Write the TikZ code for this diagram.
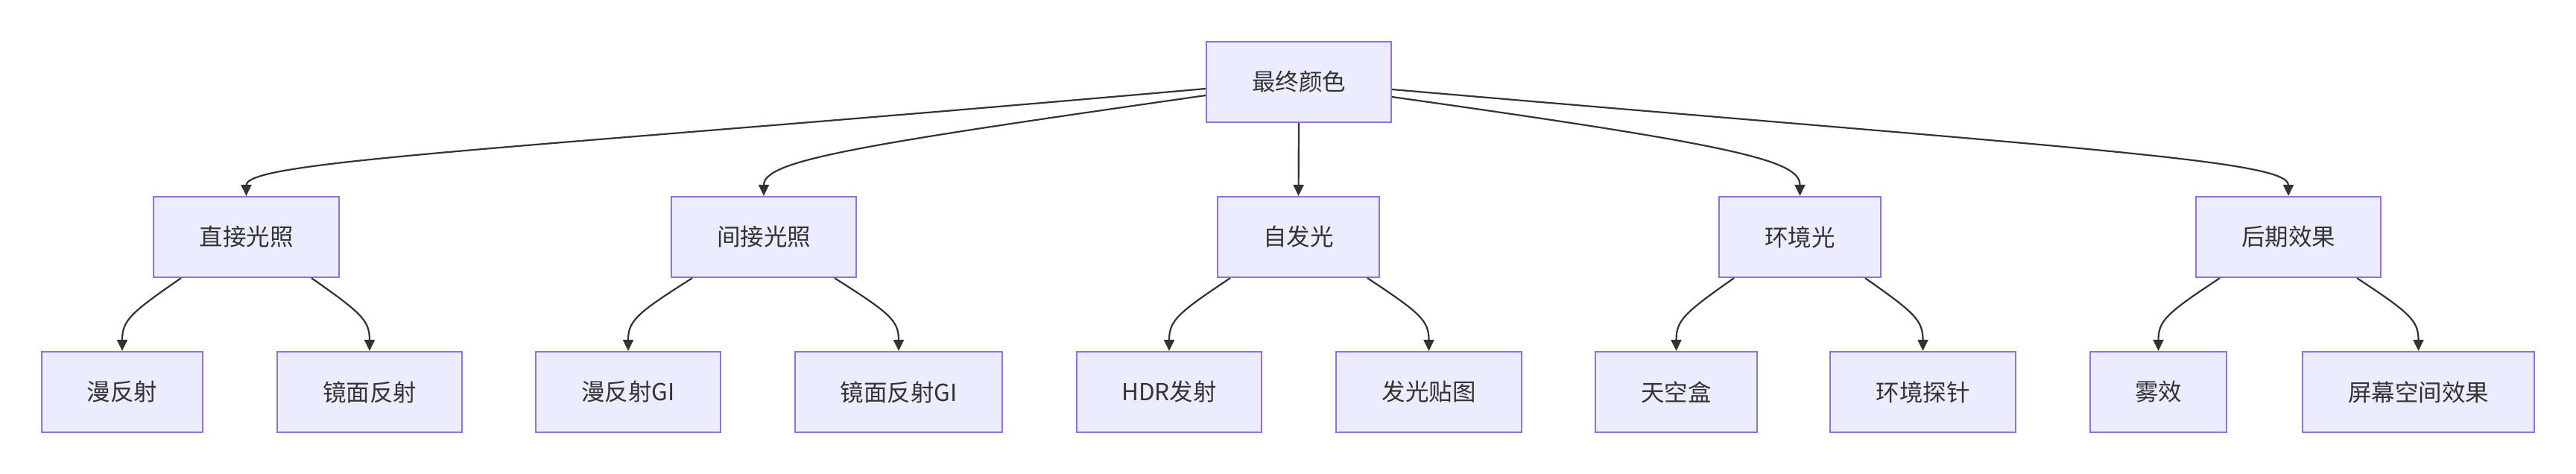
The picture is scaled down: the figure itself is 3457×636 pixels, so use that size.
\documentclass[tikz,border=0pt]{standalone}
\usepackage{fontspec}
\setmainfont{Noto Sans CJK SC}
\usetikzlibrary{arrows.meta}
\definecolor{boxfill}{HTML}{ECECFF}
\definecolor{boxline}{HTML}{9370DB}
\definecolor{ink}{HTML}{333333}
\begin{document}
\begin{tikzpicture}[x=1pt,y=-1pt,
  box/.style={draw=boxline, fill=boxfill, line width=2.2pt, minimum height=108pt,
    inner sep=0pt, text=ink, font=\fontsize{31.5}{36}\selectfont},
  arr/.style={draw=ink, line width=2.2pt, -{Triangle[length=15pt,width=14pt]}}]
\useasboundingbox (0,0) rectangle (3457,636);
% root
\node[box, minimum width=248pt] (root) at (1743,110) {最终颜色};
% level 1
\node[box, minimum width=249pt] (zj) at (330.5,318) {直接光照};
\node[box, minimum width=248pt] (jj) at (1025,318) {间接光照};
\node[box, minimum width=217pt] (zf) at (1742.5,318) {自发光};
\node[box, minimum width=217pt] (hj) at (2415.5,318) {环境光};
\node[box, minimum width=248pt] (hq) at (3071,318) {后期效果};
% level 2
\node[box, minimum width=216pt] (mf) at (164,526) {漫反射};
\node[box, minimum width=248pt] (jm) at (496,526) {镜面反射};
\node[box, minimum width=248pt] (mfgi) at (843,526) {漫反射GI};
\node[box, minimum width=278pt] (jmgi) at (1206,526) {镜面反射GI};
\node[box, minimum width=248pt] (hdr) at (1569,526) {HDR发射};
\node[box, minimum width=249pt] (fg) at (1917.5,526) {发光贴图};
\node[box, minimum width=217pt] (tk) at (2249.5,526) {天空盒};
\node[box, minimum width=249pt] (tz) at (2580.5,526) {环境探针};
\node[box, minimum width=183pt] (wx) at (2896.5,526) {雾效};
\node[box, minimum width=311pt] (pm) at (3245.5,526) {屏幕空间效果};
% root edges
\draw[arr] ([yshift=-9pt]root.west) .. controls (700,200) and (330.5,215) .. (zj.north);
\draw[arr] ([yshift=-18pt]root.west) .. controls (1150,195) and (1025,215) .. (jj.north);
\draw[arr] (root.south) -- (zf.north);
\draw[arr] ([yshift=-20pt]root.east) .. controls (2330,195) and (2415.5,215) .. (hj.north);
\draw[arr] ([yshift=-10pt]root.east) .. controls (2800,200) and (3071,215) .. (hq.north);
% level 1 -> level 2
\draw[arr] ([xshift=-87.5pt]zj.south) .. controls (175,420) and (164,430) .. (mf.north);
\draw[arr] ([xshift=87.5pt]zj.south) .. controls (485,420) and (496,430) .. (jm.north);
\draw[arr] ([xshift=-96pt]jj.south) .. controls (855,420) and (843,430) .. (mfgi.north);
\draw[arr] ([xshift=95pt]jj.south) .. controls (1194,420) and (1206,430) .. (jmgi.north);
\draw[arr] ([xshift=-91.5pt]zf.south) .. controls (1580.5,420) and (1569,430) .. (hdr.north);
\draw[arr] ([xshift=92.5pt]zf.south) .. controls (1906,420) and (1917.5,430) .. (fg.north);
\draw[arr] ([xshift=-88.5pt]hj.south) .. controls (2260,420) and (2249.5,430) .. (tk.north);
\draw[arr] ([xshift=87.5pt]hj.south) .. controls (2570,420) and (2580.5,430) .. (tz.north);
\draw[arr] ([xshift=-92pt]hq.south) .. controls (2908,420) and (2896.5,430) .. (wx.north);
\draw[arr] ([xshift=92pt]hq.south) .. controls (3234,420) and (3245.5,430) .. (pm.north);
\end{tikzpicture}
\end{document}
